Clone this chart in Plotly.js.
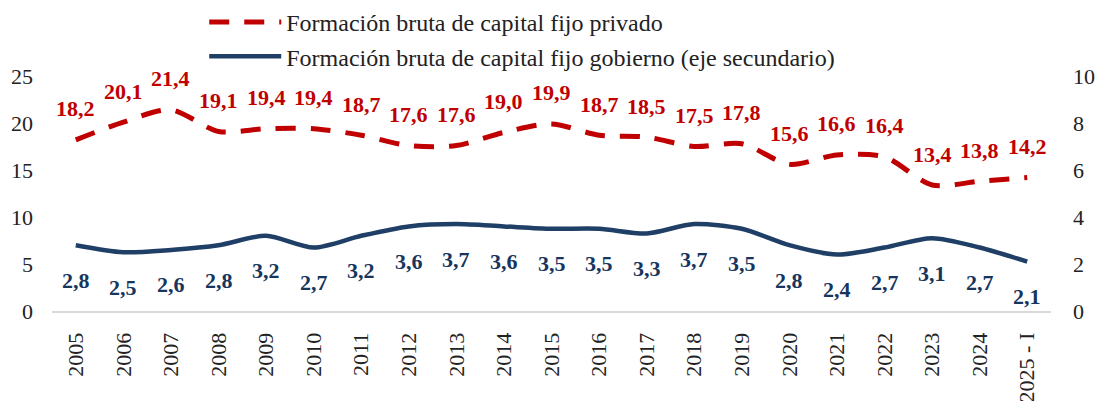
<!DOCTYPE html>
<html>
<head>
<meta charset="utf-8">
<script src="https://cdn.plot.ly/plotly-3.0.1.min.js"></script>
<style>html,body{margin:0;padding:0;background:#fff;}#chart{width:1098px;height:401px;}</style>
</head>
<body>
<div id="chart"></div>
<script>
const categories = ["2005","2006","2007","2008","2009","2010","2011","2012","2013","2014","2015","2016","2017","2018","2019","2020","2021","2022","2023","2024","2025 - I"];
const privado = [18.2,20.1,21.4,19.1,19.4,19.4,18.7,17.6,17.6,19.0,19.9,18.7,18.5,17.5,17.8,15.6,16.6,16.4,13.4,13.8,14.2];
const gobierno = [2.8,2.5,2.6,2.8,3.2,2.7,3.2,3.6,3.7,3.6,3.5,3.5,3.3,3.7,3.5,2.8,2.4,2.7,3.1,2.7,2.1];
const nameP = "Formación bruta de capital fijo privado";
const nameG = "Formación bruta de capital fijo gobierno (eje secundario)";

const RED = "#C00000", NAVY = "#1F3F66", NAVYTXT = "#17365D";
const FONT = "Liberation Serif, Times New Roman, serif";
const fmt = v => v.toFixed(1).replace(".", ",");

const traces = [
  {x: categories, y: privado, name: nameP, type: "scatter", mode: "lines",
   line: {color: RED, width: 5, dash: "20px,15px", shape: "spline", smoothing: 0.8}, yaxis: "y"},
  {x: categories, y: gobierno, name: nameG, type: "scatter", mode: "lines",
   line: {color: NAVY, width: 4.5, shape: "spline", smoothing: 0.8}, yaxis: "y2"}
];

const annotations = [];
categories.forEach((c, i) => {
  annotations.push({x: i, y: privado[i], xref: "x", yref: "y", text: fmt(privado[i]), showarrow: false,
    yshift: 31, font: {family: FONT, size: 22, color: RED, weight: "bold"}});
  annotations.push({x: i, y: gobierno[i], xref: "x", yref: "y2", text: fmt(gobierno[i]), showarrow: false,
    yshift: -35, font: {family: FONT, size: 22, color: NAVYTXT, weight: "bold"}});
});

const layout = {
  width: 1098, height: 401,
  margin: {l: 52, r: 47, t: 76, b: 90, autoexpand: false},
  paper_bgcolor: "#fff", plot_bgcolor: "#fff",
  font: {family: FONT, size: 22, color: "#222"},
  showlegend: true,
  legend: {orientation: "v", xref: "container", yref: "container", x: 0.186, xanchor: "left", y: 1.0, yanchor: "top",
    font: {family: FONT, size: 24, color: "#222"}, bgcolor: "rgba(0,0,0,0)", tracegroupgap: 0, itemwidth: 72},
  xaxis: {type: "category", range: [-0.5, categories.length - 0.5], tickangle: -90, showgrid: false, zeroline: false,
    showline: true, linecolor: "#D9D9D9", linewidth: 2, ticks: "", ticklabelstandoff: 11,
    tickfont: {family: FONT, size: 22, color: "#222"}},
  yaxis: {range: [0, 25], dtick: 5, showgrid: false, zeroline: false, showline: false, ticks: "",
    ticklabelstandoff: 18, tickfont: {family: FONT, size: 22, color: "#222"}},
  yaxis2: {range: [0, 10], dtick: 2, overlaying: "y", side: "right", showgrid: false, zeroline: false,
    showline: false, ticks: "", ticklabelstandoff: 21, tickfont: {family: FONT, size: 22, color: "#222"}},
  annotations: annotations
};

Plotly.newPlot("chart", traces, layout, {displayModeBar: false, staticPlot: true});
</script>
</body>
</html>
